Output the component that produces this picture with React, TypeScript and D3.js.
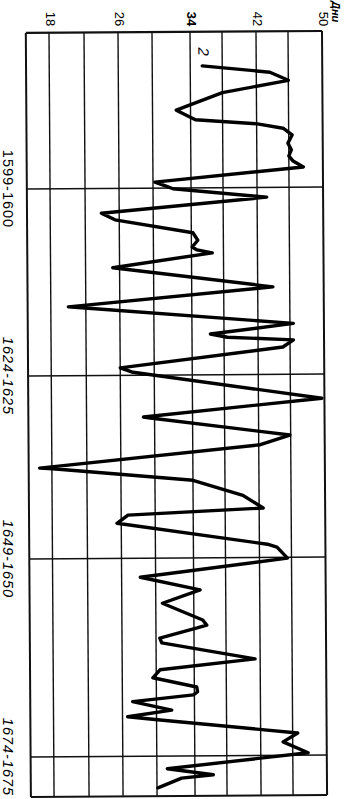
import React from 'react';
import * as d3 from 'd3';

// Days axis (top)
const dayTicks = [18, 26, 34, 42, 50];
const dayGrid = [18, 22, 26, 30, 34, 38, 42, 46, 50];
const dayMin = 15.35;
const dayMax = 50;
const axisTitle = 'Дни';
const seriesLabel = '2';

// Period axis (left)
const periodBounds = [1599.5, 1624.5, 1649.5, 1674.5];
const periodLabels = ['1599-1600', '1624-1625', '1649-1650', '1674-1675'];
const yearStart = 1578.64;
const yearEnd = 1679.55;

// Series 2 : vertices
const years = [
  1583.2, 1584.1, 1585.2, 1586.8, 1589.1, 1590.4, 1591.0, 1591.6, 1592.5, 1593.6,
  1594.5, 1595.3, 1596.0, 1596.8, 1598.7, 1599.2, 1599.6, 1600.8, 1602.8, 1603.7,
  1605.5, 1606.5, 1607.4, 1607.8, 1608.2, 1610.1, 1612.8, 1615.3, 1615.5, 1617.7,
  1619.05, 1619.5, 1619.9, 1620.85, 1623.5, 1624.1, 1627.8, 1630.2, 1630.35, 1632.8,
  1634.1, 1637.1, 1637.2, 1638.9, 1641.0, 1642.75, 1643.6, 1644.7, 1647.7, 1648.1,
  1649.6, 1651.9, 1653.55, 1655.2, 1657.35, 1658.0, 1658.35, 1659.6, 1660.2, 1662.3,
  1663.6, 1664.6, 1665.8, 1666.4, 1666.8, 1667.6, 1668.7, 1669.5, 1669.9, 1671.7,
  1672.8, 1674.2, 1676.1, 1676.9, 1677.3, 1678.5,
];
const days = [
  35.5, 43.7, 46.0, 38.0, 32.5, 34.6, 42.1, 45.3, 46.4, 45.9,
  46.3, 46.0, 46.5, 47.7, 30.2, 31.3, 32.1, 43.2, 23.9, 25.5,
  34.2, 34.8, 34.1, 34.7, 36.6, 25.2, 43.9, 20.0, 22.3, 46.4,
  36.3, 38.4, 46.4, 45.1, 26.0, 27.5, 49.7, 28.7, 29.5, 45.9,
  42.2, 16.6, 18.1, 34.0, 40.1, 42.5, 26.8, 25.5, 43.0, 44.2,
  45.5, 28.2, 34.8, 30.7, 35.1, 35.6, 34.4, 30.4, 30.6, 41.4,
  30.4, 29.6, 34.3, 34.4, 33.9, 27.2, 31.6, 26.6, 30.1, 46.6,
  44.8, 47.8, 31.1, 36.3, 32.6, 30.1,
];

const W = 344;
const H = 799;
const FONT = '"Liberation Sans", Arial, sans-serif';

export default function App() {
  // hand-drawn grid: piecewise-linear scales through the ruled lines
  const x = d3
    .scaleLinear()
    .domain(dayGrid)
    .range([49, 84, 118, 152, 190, 222, 256, 288, 322]);
  const y = d3
    .scaleLinear()
    .domain(periodBounds)
    .range([189, 376, 559, 757]);

  const pts: [number, number][] = years.map((yr, i) => [yr, days[i]]);
  const line = d3
    .line<[number, number]>()
    .x((d) => x(d[1]))
    .y((d) => y(d[0]))
    .curve(d3.curveLinear);

  const x0 = x(dayMin);
  const x1 = x(dayMax);
  const y0 = y(yearStart);
  const y1 = y(yearEnd);

  return (
    <svg
      width={W}
      height={H}
      viewBox={`0 0 ${W} ${H}`}
      style={{ position: 'absolute', left: 0, top: 0, background: '#fff' }}
    >
      <rect x={0} y={0} width={W} height={H} fill="#fff" />
      <g transform={`rotate(-0.38 ${x0} ${y0})`}>
        {dayGrid.map((v) => (
          <line
            key={'v' + v}
            x1={x(v)}
            x2={x(v)}
            y1={y0}
            y2={y1}
            stroke="#111"
            strokeWidth={v === dayMax ? 2 : 1.4}
          />
        ))}
        {periodBounds.map((p) => (
          <line
            key={'h' + p}
            x1={x0}
            x2={x1}
            y1={y(p)}
            y2={y(p)}
            stroke="#111"
            strokeWidth={1.5}
          />
        ))}
        <line x1={x0} x2={x1} y1={y0} y2={y0} stroke="#111" strokeWidth={2.2} />
        <line x1={x0} x2={x1} y1={y1} y2={y1} stroke="#111" strokeWidth={2.2} />
        <line x1={x0} x2={x0} y1={y0} y2={y1} stroke="#111" strokeWidth={2} />
        <path
          d={line(pts) || ''}
          fill="none"
          stroke="#000"
          strokeWidth={3.4}
          strokeLinejoin="round"
          strokeLinecap="round"
        />
        <text
          transform={`translate(${x(35.7)},${y(1581.3)}) rotate(90)`}
          textAnchor="middle"
          dominantBaseline="central"
          fontFamily={FONT}
          fontStyle="italic"
          fontSize={15}
          fill="#000"
        >
          {seriesLabel}
        </text>
      </g>

      {dayTicks.map((v) => (
        <text
          key={'t' + v}
          transform={`translate(${x(v) + 1},${19}) rotate(90)`}
          textAnchor="middle"
          dominantBaseline="central"
          fontFamily={FONT}
          fontSize={13}
          fontWeight={v === 34 ? 'bold' : 'normal'}
          fill="#000"
        >
          {v}
        </text>
      ))}
      <text
        transform={`translate(${336},${1}) rotate(90)`}
        textAnchor="start"
        dominantBaseline="central"
        fontFamily={FONT}
        fontStyle="italic"
        fontWeight="bold"
        fontSize={11}
        fill="#000"
      >
        {axisTitle}
      </text>

      {periodLabels.map((lab, i) => (
        <text
          key={lab}
          transform={`translate(${8},${y(periodBounds[i])}) rotate(90)`}
          textAnchor="middle"
          dominantBaseline="central"
          fontFamily={FONT}
          fontStyle={i === 0 ? 'normal' : 'italic'}
          fontSize={14.5}
          letterSpacing={1}
          fill="#000"
        >
          {lab}
        </text>
      ))}
    </svg>
  );
}
